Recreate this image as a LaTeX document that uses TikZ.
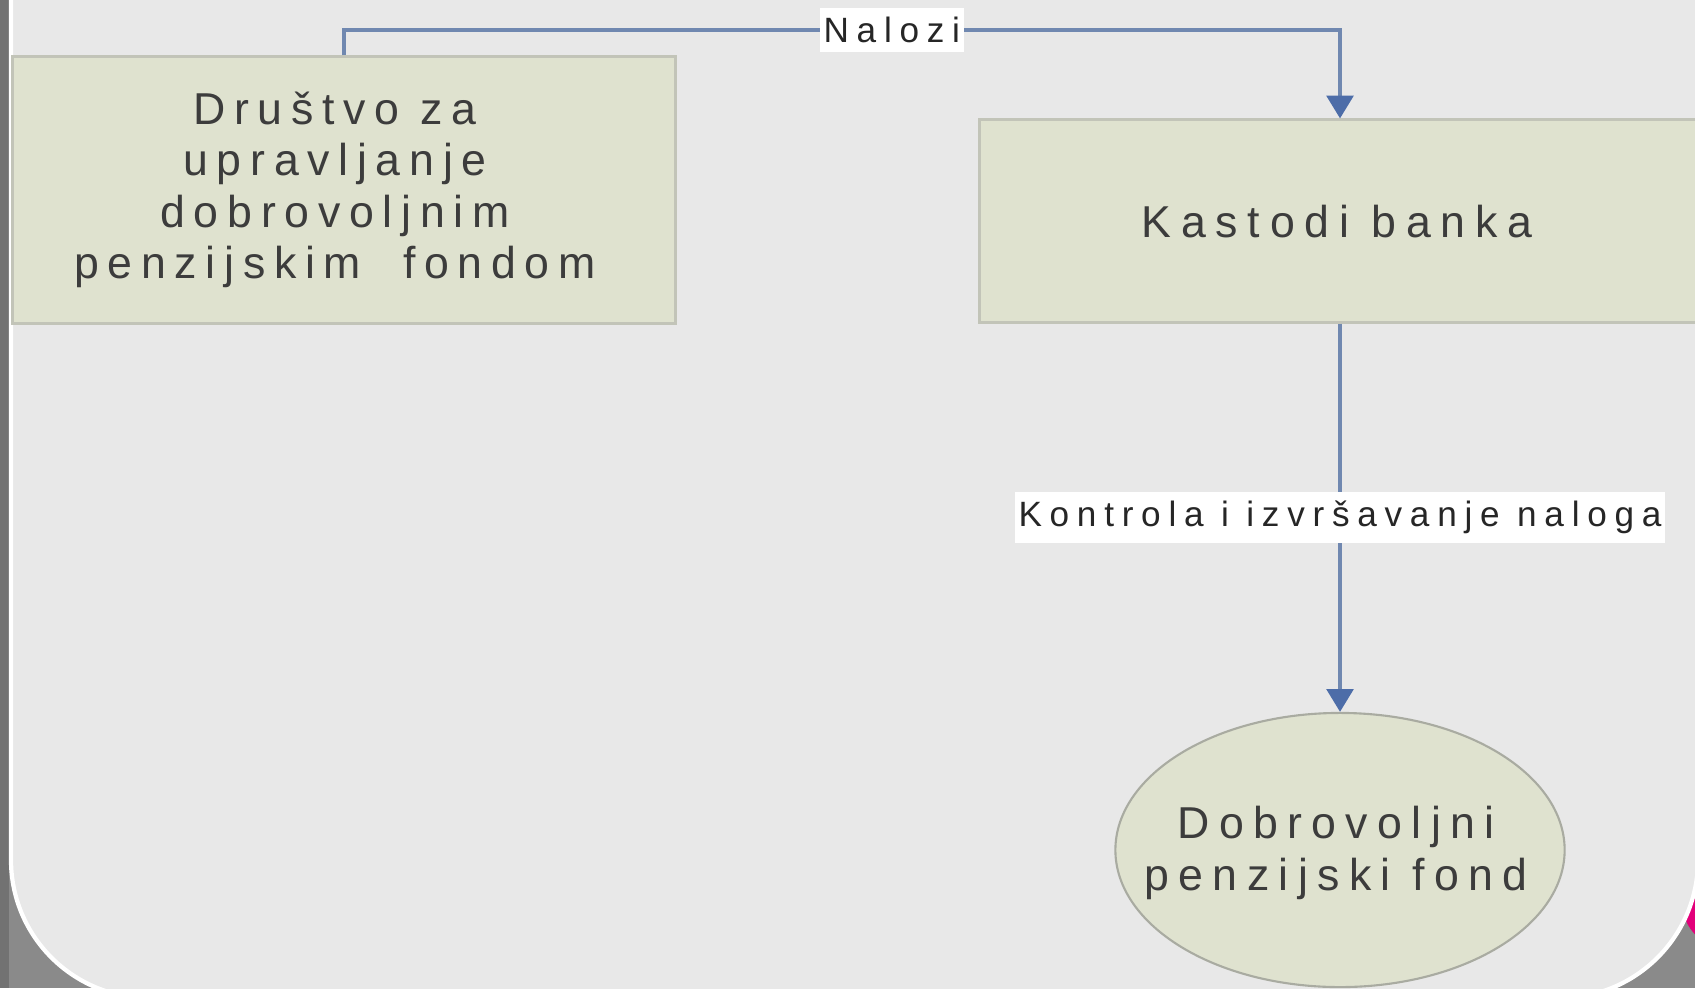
\documentclass[tikz,border=0pt]{standalone}
\usepackage{fontspec}
\setmainfont{Liberation Sans}
\newfontfamily\spacedfont[LetterSpace=22]{Liberation Sans}
\newfontfamily\boxfont[LetterSpace=19.5]{Liberation Sans}
\newfontfamily\ellfont[LetterSpace=21]{Liberation Sans}
\usetikzlibrary{arrows.meta,shapes.geometric,calc}
\definecolor{outergray}{HTML}{8A8A8A}
\definecolor{stripgray}{HTML}{727272}
\definecolor{panelgray}{HTML}{E8E8E8}
\definecolor{boxfill}{HTML}{DFE2CF}
\definecolor{boxline}{HTML}{C2C4B8}
\definecolor{ellline}{HTML}{A9ABA1}
\definecolor{connblue}{HTML}{7088B0}
\definecolor{tipblue}{HTML}{4D6DA8}
\definecolor{txtgray}{HTML}{3C3C3C}
\definecolor{accentpink}{HTML}{E2007A}
\tikzset{
  boxnode/.style={draw=boxline, line width=0.85pt, fill=boxfill, inner sep=0pt},
  boxtext/.style={text=txtgray, align=center, font=\boxfont\fontsize{12.7}{14.6}\selectfont},
  ellnode/.style={ellipse, draw=ellline, line width=0.6pt, fill=boxfill, inner sep=0pt},
  elltext/.style={text=txtgray, align=center, font=\ellfont\fontsize{12.7}{14.6}\selectfont},
  conn/.style={draw=connblue, line width=1.05pt,
    -{Triangle[width=7.6pt,length=6.5pt,color=tipblue,fill=tipblue]}},
  lbl/.style={fill=white, inner xsep=1pt, inner ysep=2.5pt, text=black!85,
    font=\spacedfont\fontsize{10}{12}\selectfont}
}
\begin{document}
\begin{tikzpicture}[x=0.01cm, y=-0.01cm]
\useasboundingbox (0,0) rectangle (1695,988);
\clip (0,0) rectangle (1695,988);
% outer background
\fill[outergray] (0,0) rectangle (1695,988);
\fill[stripgray] (0,0) rectangle (9,988);
\fill[accentpink] (1725,905) circle (42);
% panel
\path[fill=panelgray, draw=white, line width=1.2pt, rounded corners=1.38cm]
  (11,-400) rectangle (1698,998);
% nodes
\node[boxnode, minimum width=6.63cm, minimum height=2.66cm] (b1) at (344,190) {};
\node[boxtext] (b1t) at (335,190)
  {Društvo za\\upravljanje\\dobrovoljnim\\penzijskim\ \ fondom};
\node[boxnode, minimum width=7.2cm, minimum height=2.02cm] (kb) at (1340,221) {};
\node[boxtext, font=\spacedfont\fontsize{12.7}{14.6}\selectfont] (kbt) at (1337,222) {Kastodi banka};
\node[ellnode, minimum width=4.49cm, minimum height=2.74cm] (ef) at (1340,850) {};
\node[elltext] (eft) at (1336,853) {Dobrovoljni\\penzijski fond};
\coordinate (topcorner) at (1340,30);
% connectors
\draw[conn] (b1.north) |- node[lbl, pos=0.775] (l1) {Nalozi} (topcorner) -- (kb.north);
\draw[conn] (kb.south) -- node[lbl] (l2) {Kontrola i izvršavanje naloga} (ef.north);
\end{tikzpicture}
\end{document}
